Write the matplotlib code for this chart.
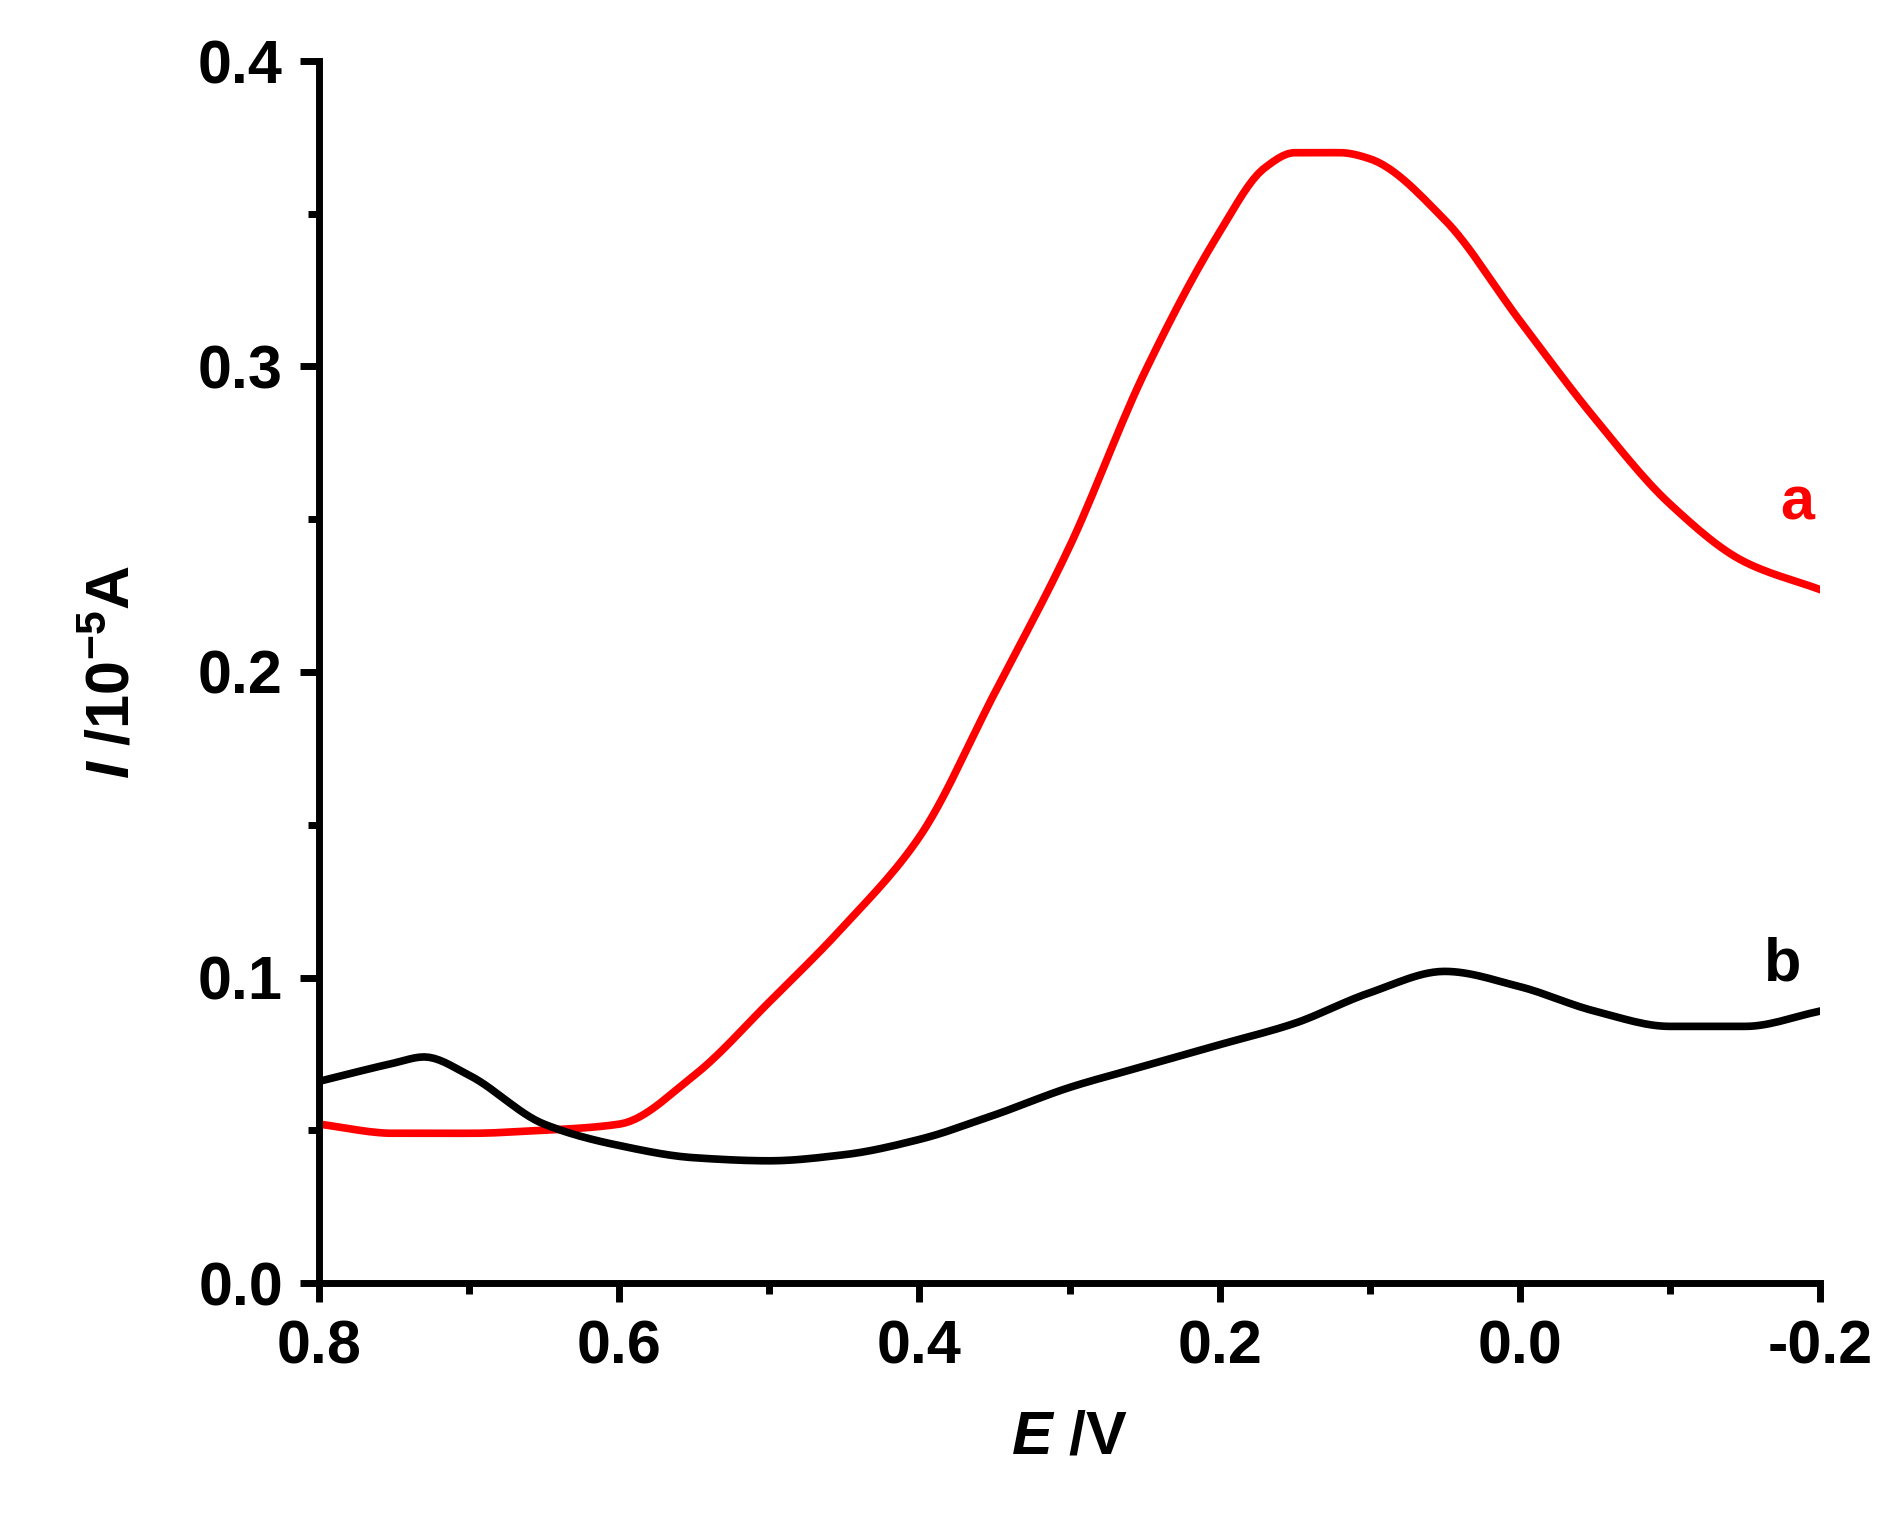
import matplotlib
matplotlib.use("Agg")
import matplotlib.pyplot as plt
import numpy as np
from matplotlib.ticker import MultipleLocator

plt.rcParams['font.family'] = ['Liberation Sans', 'DejaVu Sans']
plt.rcParams['font.weight'] = 'bold'
plt.rcParams['axes.unicode_minus'] = False
plt.rcParams['mathtext.fontset'] = 'custom'
plt.rcParams['mathtext.bf'] = 'Liberation Sans:bold'
plt.rcParams['mathtext.bfit'] = 'Liberation Sans:bold:italic'
plt.rcParams['mathtext.rm'] = 'Liberation Sans:bold'

xa = [0.8, 0.75, 0.7, 0.65, 0.6, 0.55, 0.5, 0.45, 0.4, 0.35, 0.3, 0.25, 0.2, 0.17, 0.15, 0.12, 0.1, 0.05, 0.0, -0.05, -0.1, -0.15, -0.2]
ya = [0.052, 0.049, 0.049, 0.050, 0.052, 0.068, 0.092, 0.117, 0.146, 0.193, 0.241, 0.298, 0.344, 0.365, 0.370, 0.370, 0.368, 0.348, 0.315, 0.283, 0.255, 0.236, 0.227]
xb = [0.8, 0.75, 0.73, 0.7, 0.65, 0.6, 0.55, 0.5, 0.45, 0.4, 0.35, 0.3, 0.25, 0.2, 0.15, 0.1, 0.05, 0.0, -0.05, -0.1, -0.15, -0.2]
yb = [0.066, 0.072, 0.074, 0.068, 0.052, 0.045, 0.041, 0.040, 0.042, 0.047, 0.055, 0.064, 0.071, 0.078, 0.085, 0.095, 0.102, 0.097, 0.089, 0.084, 0.084, 0.089]

def smooth(x, y):
    xs = np.linspace(x[0], x[-1], 300)
    x = np.array(x)[::-1]; y = np.array(y)[::-1]
    h = np.diff(x); d = np.diff(y) / h
    m = np.zeros_like(y)
    for i in range(1, len(y) - 1):
        m[i] = 0 if d[i-1] * d[i] <= 0 else 2 / (1/d[i-1] + 1/d[i])
    m[0] = d[0]; m[-1] = d[-1]
    xq = np.sort(xs)
    idx = np.clip(np.searchsorted(x, xq) - 1, 0, len(h) - 1)
    t = (xq - x[idx]) / h[idx]
    h00 = 2*t**3 - 3*t**2 + 1; h10 = t**3 - 2*t**2 + t
    h01 = -2*t**3 + 3*t**2; h11 = t**3 - t**2
    yq = h00*y[idx] + h10*h[idx]*m[idx] + h01*y[idx+1] + h11*h[idx]*m[idx+1]
    return xq, yq

fig = plt.figure(figsize=(18.98, 15.16), dpi=100)
ax = fig.add_axes([319/1898, 1 - 1283/1516, (1820-319)/1898, (1283-61)/1516])
ax.plot(*smooth(xa, ya), color='#ff0000', lw=5.5)
ax.plot(*smooth(xb, yb), color='black', lw=5.5)
ax.set_xlim(0.8, -0.2)
ax.set_ylim(0, 0.4)
ax.xaxis.set_major_locator(MultipleLocator(0.2))
ax.xaxis.set_minor_locator(MultipleLocator(0.1))
ax.yaxis.set_major_locator(MultipleLocator(0.1))
ax.yaxis.set_minor_locator(MultipleLocator(0.05))
ax.xaxis.set_major_formatter(matplotlib.ticker.FormatStrFormatter('%.1f'))
ax.yaxis.set_major_formatter(matplotlib.ticker.FormatStrFormatter('%.1f'))
for s in ['top', 'right']:
    ax.spines[s].set_visible(False)
for s in ['left', 'bottom']:
    ax.spines[s].set_linewidth(5)
ax.tick_params(which='major', direction='out', length=14, width=5, labelsize=44, pad=12)
ax.tick_params(which='minor', direction='out', length=8, width=5)
ax.set_xlabel(r'$\mathbfit{E}$ /V', fontsize=44, fontweight='bold', labelpad=24)
ax.set_ylabel(r'$\mathbfit{I}$ /10$^{\mathbf{-5}}$A', fontsize=44, fontweight='bold', labelpad=40)
ax.text(-0.185, 0.255, 'a', color='#ff0000', fontsize=44, fontweight='bold', ha='center', va='center')
ax.text(-0.175, 0.104, 'b', color='black', fontsize=44, fontweight='bold', ha='center', va='center')
fig.savefig('out.png', dpi=100)
